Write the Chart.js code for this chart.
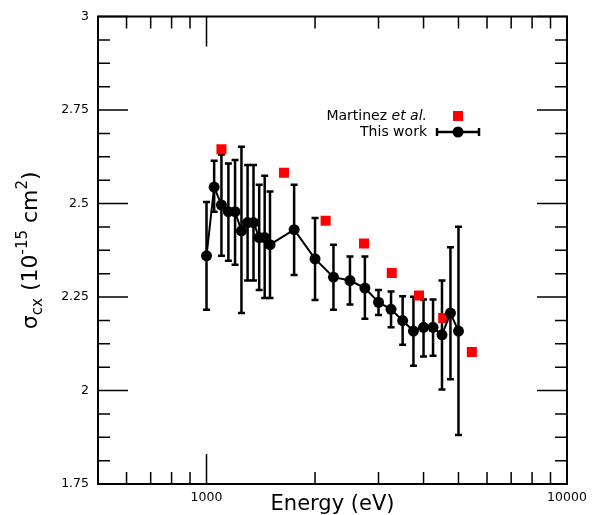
<!DOCTYPE html>
<html>
<head>
<meta charset="utf-8">
<script src="https://cdn.jsdelivr.net/npm/chart.js@4/dist/chart.umd.min.js"></script>
<style>
  html, body { margin: 0; padding: 0; background: #fff; }
  #wrap { width: 605px; height: 515px; }
</style>
</head>
<body>
<div id="wrap"><canvas id="myChart" width="605" height="515"></canvas></div>
<script>
const energy = [1000, 1050, 1100, 1150, 1200, 1250, 1300, 1350, 1400, 1450, 1500, 1750, 2000, 2250, 2500, 2750, 3000, 3250, 3500, 3750, 4000, 4250, 4500, 4750, 5000]
const sigma = [2.360, 2.544, 2.496, 2.478, 2.478, 2.427, 2.449, 2.449, 2.409, 2.409, 2.390, 2.430, 2.352, 2.303, 2.294, 2.274, 2.236, 2.217, 2.187, 2.159, 2.169, 2.169, 2.149, 2.207, 2.159]
const sigmaHi = [2.504, 2.614, 2.631, 2.607, 2.616, 2.652, 2.603, 2.603, 2.550, 2.574, 2.532, 2.550, 2.461, 2.390, 2.358, 2.358, 2.269, 2.265, 2.252, 2.251, 2.243, 2.243, 2.294, 2.383, 2.438]
const sigmaLo = [2.216, 2.478, 2.360, 2.347, 2.336, 2.207, 2.294, 2.294, 2.269, 2.247, 2.247, 2.309, 2.242, 2.216, 2.230, 2.192, 2.202, 2.169, 2.122, 2.066, 2.091, 2.093, 2.003, 2.030, 1.881]

const martinezE = [1100, 1640, 2140, 2735, 3265, 3885, 4535, 5445]
const martinezSigma = [2.645, 2.582, 2.454, 2.393, 2.314, 2.254, 2.194, 2.103]

const xLabels = [1000, 10000]
const yLabels = [1.75, 2, 2.25, 2.5, 2.75, 3]
const xMinor = [600, 700, 800, 900, 2000, 3000, 4000, 5000, 6000, 7000, 8000, 9000]

const FONT = 'DejaVu Sans'

// error bars, frame and inward ticks
const extras = {
  id: 'extras',
  beforeDatasetsDraw(chart) {
    const ctx = chart.ctx
    const x = chart.scales.x, y = chart.scales.y
    ctx.save()
    ctx.strokeStyle = '#000'
    ctx.lineWidth = 2.5
    for (let i = 0; i < energy.length; i++) {
      const px = x.getPixelForValue(energy[i])
      const top = y.getPixelForValue(sigmaHi[i])
      const bot = y.getPixelForValue(sigmaLo[i])
      ctx.beginPath()
      ctx.moveTo(px, top); ctx.lineTo(px, bot)
      ctx.moveTo(px - 3.5, top); ctx.lineTo(px + 3.5, top)
      ctx.moveTo(px - 3.5, bot); ctx.lineTo(px + 3.5, bot)
      ctx.stroke()
    }
    ctx.restore()
  },
  afterDraw(chart) {
    const ctx = chart.ctx
    const a = chart.chartArea
    const x = chart.scales.x, y = chart.scales.y
    ctx.save()
    ctx.strokeStyle = '#000'
    ctx.lineWidth = 1.5
    ctx.beginPath()
    xMinor.forEach(v => {
      const px = x.getPixelForValue(v)
      ctx.moveTo(px, a.top); ctx.lineTo(px, a.top + 12)
      ctx.moveTo(px, a.bottom); ctx.lineTo(px, a.bottom - 12)
    })
    ;[1000].forEach(v => {
      const px = x.getPixelForValue(v)
      ctx.moveTo(px, a.top); ctx.lineTo(px, a.top + 30)
      ctx.moveTo(px, a.bottom); ctx.lineTo(px, a.bottom - 30)
    })
    for (let k = 0; k <= 20; k++) {
      const v = 1.75 + k * 0.0625
      const py = y.getPixelForValue(v)
      const len = k % 4 === 0 ? 30 : 12
      ctx.moveTo(a.left, py); ctx.lineTo(a.left + len, py)
      ctx.moveTo(a.right, py); ctx.lineTo(a.right - len, py)
    }
    ctx.stroke()
    ctx.lineWidth = 2
    ctx.strokeRect(a.left, a.top, a.right - a.left, a.bottom - a.top)

    // axis titles
    ctx.fillStyle = '#000'
    ctx.textBaseline = 'alphabetic'
    ctx.font = '21px ' + FONT
    ctx.textAlign = 'center'
    ctx.fillText('Energy (eV)', (a.left + a.right) / 2, 510)

    const parts = [
      { t: 'σ', s: 22, dy: 0 },
      { t: 'cx', s: 15, dy: 5 },
      { t: ' (10', s: 22, dy: 0 },
      { t: '-15', s: 15, dy: -10 },
      { t: ' cm', s: 22, dy: 0 },
      { t: '2', s: 15, dy: -10 },
      { t: ')', s: 22, dy: 0 }
    ]
    let total = 0
    parts.forEach(p => { ctx.font = p.s + 'px ' + FONT; p.w = ctx.measureText(p.t).width; total += p.w })
    ctx.translate(37, (a.top + a.bottom) / 2)
    ctx.rotate(-Math.PI / 2)
    ctx.textAlign = 'left'
    let cx = -total / 2
    parts.forEach(p => {
      ctx.font = p.s + 'px ' + FONT
      ctx.fillText(p.t, cx, p.dy)
      cx += p.w
    })
    ctx.restore()

    // legend
    ctx.save()
    ctx.fillStyle = '#000'
    ctx.textAlign = 'right'
    ctx.textBaseline = 'middle'
    ctx.font = 'italic 14px ' + FONT
    const italW = ctx.measureText('et al.').width
    ctx.fillText('et al.', 427, 116)
    ctx.font = '14px ' + FONT
    ctx.fillText('Martinez ', 427 - italW, 116)
    ctx.fillText('This work', 427, 132)
    ctx.fillStyle = '#ff0000'
    ctx.fillRect(453, 111, 10, 10)
    ctx.strokeStyle = '#000'
    ctx.lineWidth = 2.5
    ctx.beginPath()
    ctx.moveTo(437, 132); ctx.lineTo(479, 132)
    ctx.moveTo(437, 128); ctx.lineTo(437, 136)
    ctx.moveTo(479, 128); ctx.lineTo(479, 136)
    ctx.stroke()
    ctx.fillStyle = '#000'
    ctx.beginPath()
    ctx.arc(458, 132, 5.5, 0, Math.PI * 2)
    ctx.fill()
    ctx.restore()
  }
}

const ctxMain = document.getElementById('myChart')

const chart = new Chart(ctxMain, {
  type: 'scatter',
  data: {
    datasets: [
      {
        label: 'Martinez et al.',
        data: martinezE.map((e, i) => ({ x: e, y: martinezSigma[i] })),
        pointStyle: 'rect',
        pointRadius: 7.1,
        backgroundColor: '#ff0000',
        borderWidth: 0,
        showLine: false,
        order: 2
      },
      {
        label: 'This work',
        data: energy.map((e, i) => ({ x: e, y: sigma[i] })),
        pointRadius: 5.5,
        backgroundColor: '#000',
        borderColor: '#000',
        borderWidth: 2,
        pointBorderWidth: 0,
        showLine: true,
        order: 1
      }
    ]
  },
  options: {
    responsive: false,
    animation: false,
    layout: { padding: { top: 14, right: 38, left: 0, bottom: 0 } },
    plugins: {
      legend: { display: false },
      tooltip: { enabled: false }
    },
    scales: {
      x: {
        type: 'logarithmic',
        min: 500,
        max: 10000,
        grid: { display: false, drawTicks: false },
        border: { display: false },
        afterBuildTicks: s => { s.ticks = xLabels.map(v => ({ value: v })) },
        afterFit: s => { s.height = 31 },
        ticks: {
          callback: v => String(v),
          maxRotation: 0,
          autoSkip: false,
          padding: 6,
          color: '#000',
          font: { family: FONT, size: 12.5 }
        }
      },
      y: {
        min: 1.75,
        max: 3,
        grid: { display: false, drawTicks: false },
        border: { display: false },
        afterBuildTicks: s => { s.ticks = yLabels.map(v => ({ value: v })) },
        afterFit: s => { s.width = 98 },
        ticks: {
          callback: v => String(v),
          padding: 9,
          color: '#000',
          font: { family: FONT, size: 12.5 }
        }
      }
    }
  },
  plugins: [extras]
})
</script>
</body>
</html>
